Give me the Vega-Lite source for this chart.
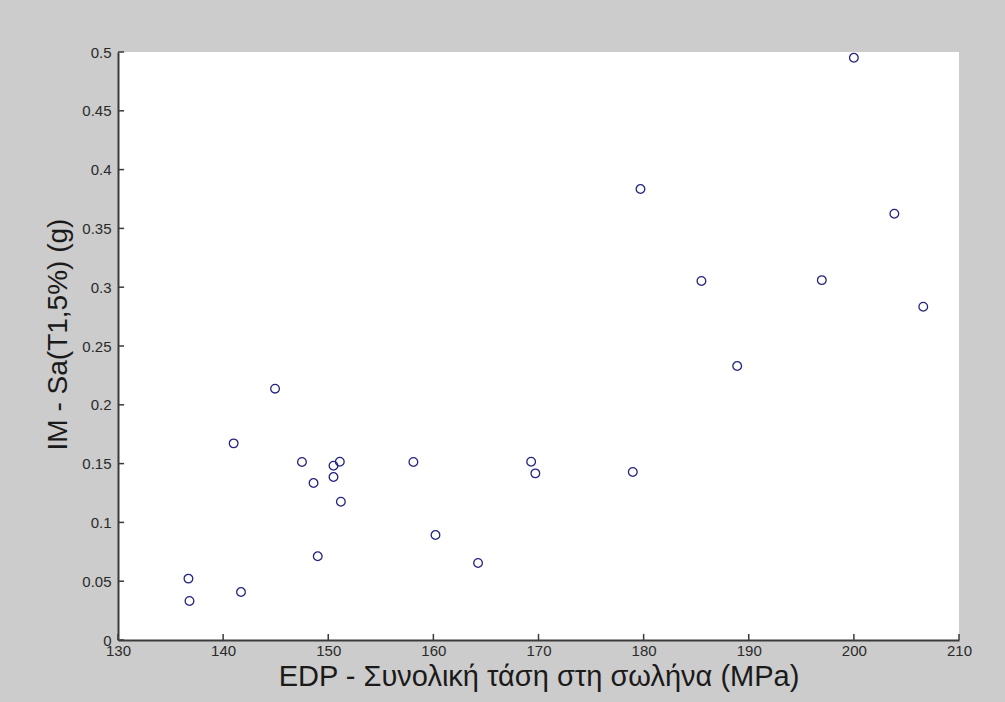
{
  "$schema": "https://vega.github.io/schema/vega-lite/v6.json",
  "width": 841,
  "height": 588,
  "autosize": {"type": "none"},
  "padding": {"left": 118, "top": 52, "right": 46, "bottom": 62},
  "background": "#cccccc",
  "view": {"fill": "white", "stroke": null},
  "datasets": {
    "points": [
      {"edp": 136.7, "im": 0.0522},
      {"edp": 136.8, "im": 0.0332},
      {"edp": 141.7, "im": 0.0408},
      {"edp": 141.0, "im": 0.1672},
      {"edp": 144.94, "im": 0.2137},
      {"edp": 147.5, "im": 0.1514},
      {"edp": 148.6, "im": 0.1335},
      {"edp": 149.0, "im": 0.0712},
      {"edp": 150.5, "im": 0.1482},
      {"edp": 150.5, "im": 0.1386},
      {"edp": 151.1, "im": 0.1516},
      {"edp": 151.2, "im": 0.1176},
      {"edp": 158.1, "im": 0.1514},
      {"edp": 160.2, "im": 0.0893},
      {"edp": 164.25, "im": 0.0655},
      {"edp": 169.3, "im": 0.1516},
      {"edp": 169.7, "im": 0.1417},
      {"edp": 178.97, "im": 0.1429},
      {"edp": 179.7, "im": 0.3835},
      {"edp": 185.5, "im": 0.3053},
      {"edp": 188.9, "im": 0.233},
      {"edp": 196.95, "im": 0.306},
      {"edp": 200.0, "im": 0.4951},
      {"edp": 203.85, "im": 0.3625},
      {"edp": 206.6, "im": 0.2834}
    ],
    "xticks": [
      {"v": 130}, {"v": 140}, {"v": 150}, {"v": 160}, {"v": 170},
      {"v": 180}, {"v": 190}, {"v": 200}, {"v": 210}
    ],
    "yticks": [
      {"v": 0}, {"v": 0.05}, {"v": 0.1}, {"v": 0.15}, {"v": 0.2}, {"v": 0.25},
      {"v": 0.3}, {"v": 0.35}, {"v": 0.4}, {"v": 0.45}, {"v": 0.5}
    ]
  },
  "layer": [
    {
      "data": {"name": "xticks"},
      "mark": {"type": "rule", "color": "#3a3a3a", "strokeWidth": 1.5},
      "encoding": {
        "x": {"field": "v", "type": "quantitative"},
        "y": {"datum": 0},
        "y2": {"datum": 0.0052}
      }
    },
    {
      "data": {"name": "yticks"},
      "mark": {"type": "rule", "color": "#3a3a3a", "strokeWidth": 1.5},
      "encoding": {
        "y": {"field": "v", "type": "quantitative"},
        "x": {"datum": 130},
        "x2": {"datum": 130.58}
      }
    },
    {
      "data": {"name": "points"},
      "mark": {"type": "point", "shape": "circle", "filled": false, "size": 75, "strokeWidth": 1.3, "color": "#24247e", "opacity": 1, "clip": false},
      "encoding": {
        "x": {
          "field": "edp",
          "type": "quantitative",
          "scale": {"domain": [130, 210], "nice": false, "zero": false},
          "axis": {
            "title": "EDP - Συνολική τάση στη σωλήνα (MPa)",
            "values": [130, 140, 150, 160, 170, 180, 190, 200, 210],
            "ticks": false,
            "labelPadding": 3,
            "titlePadding": 4,
            "titleFontSize": 29
          }
        },
        "y": {
          "field": "im",
          "type": "quantitative",
          "scale": {"domain": [0, 0.5], "nice": false, "zero": false},
          "axis": {
            "title": "IM - Sa(T1,5%) (g)",
            "values": [0, 0.05, 0.1, 0.15, 0.2, 0.25, 0.3, 0.35, 0.4, 0.45, 0.5],
            "format": ".2~f",
            "ticks": false,
            "labelPadding": 7,
            "titlePadding": 9,
            "titleFontSize": 28,
            "titleY": 282
          }
        }
      }
    }
  ],
  "config": {
    "axis": {
      "grid": false,
      "zindex": 1,
      "domainColor": "#3a3a3a",
      "domainWidth": 2,
      "labelFont": "Liberation Sans, Arial",
      "labelFontSize": 15,
      "labelColor": "#2a2a2a",
      "labelFlush": false,
      "labelOverlap": false,
      "titleFont": "Liberation Sans, Arial",
      "titleFontWeight": "normal",
      "titleColor": "#1a1a1a"
    }
  }
}
